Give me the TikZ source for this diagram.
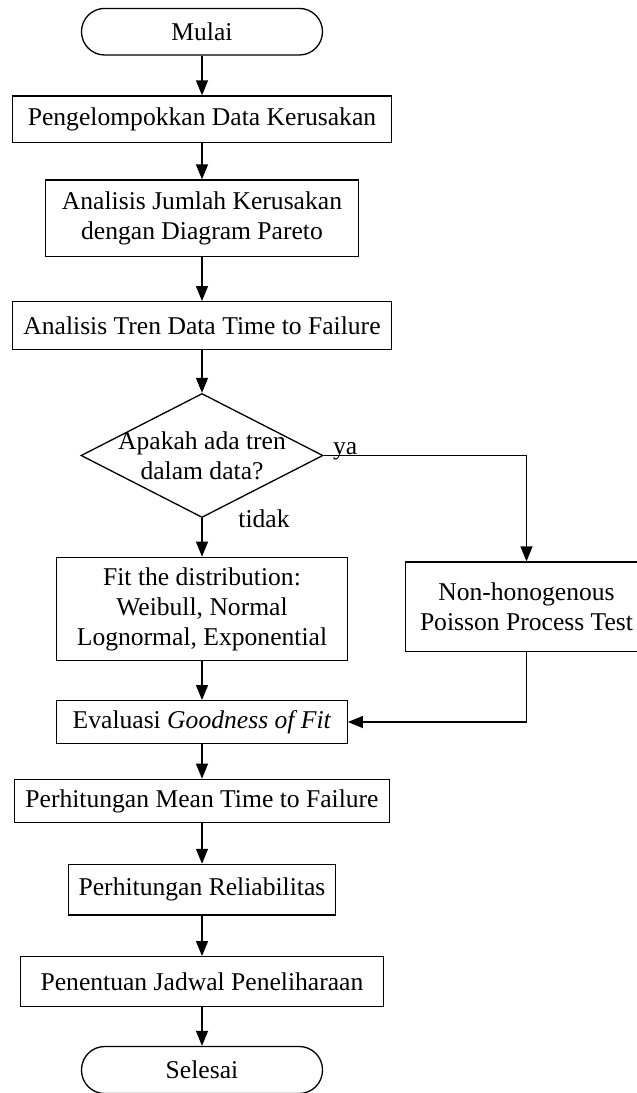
\documentclass[tikz,border=0pt]{standalone}
\usepackage{fontspec}
\setmainfont{Liberation Serif}
\usetikzlibrary{shapes.geometric,arrows.meta}

\tikzstyle{boxfont} = [font=\fontsize{12.8}{15}\selectfont]
\tikzstyle{process} = [draw,rectangle,align=center,inner sep=2pt,line width=0.65pt,boxfont]
\tikzstyle{terminal} = [draw,rectangle,rounded corners=11.6pt,inner sep=2pt,line width=0.65pt,boxfont]
\tikzstyle{decision} = [draw,diamond,inner sep=0pt,line width=0.65pt]
\tikzstyle{answer} = [inner sep=0pt,boxfont]
\tikzstyle{arrowdecorate} = [-{Triangle[length=7.5pt,width=6pt]},line width=0.65pt]

\begin{document}
\begin{tikzpicture}[x=0.5pt,y=-0.5pt]
      \useasboundingbox (0,0) rectangle (637,1093);
      \clip (0,0) rectangle (637,1093);
      %nodes
      \node[terminal, minimum width=120.5pt, minimum height=23.3pt] (start) at (202,31.7) {Mulai};
      \foreach \nodename/\x/\y/\w/\h/\content in {
        group/202/119.3/189.2/23.3/{Pengelompokkan Data Kerusakan},
        pareto/202/218.3/156.3/38.3/{Analisis Jumlah Kerusakan\\dengan Diagram Pareto},
        trend/202/325.5/189.2/23.8/{Analisis Tren Data Time to Failure},
        fit/202/609/145.3/51.7/{Fit the distribution:\\Weibull, Normal\\Lognormal, Exponential},
        nhpp/526.5/606.8/121/44.8/{Non-honogenous\\Poisson Process Test},
        gof/202/722/145.3/21.3/{Evaluasi \textit{Goodness of Fit}},
        mttf/202/801/187.6/21.7/{Perhitungan Mean Time to Failure},
        rel/202/889.7/133.3/25.3/{Perhitungan Reliabilitas},
        plan/202/981.7/181.3/25/{Penentuan Jadwal Peneliharaan}}
      {
        \node[process, minimum width=\w pt, minimum height=\h pt] (\nodename) at (\x,\y) {\content};
      };
      \node[terminal, minimum width=120.5pt, minimum height=23.5pt] (end) at (202,1070) {Selesai};
      \node[decision, minimum width=121pt, minimum height=62pt] (dec) at (202,455.5) {};
      \node[boxfont, align=center] (dectext) at (dec) {Apakah ada tren\\dalam data?};
      \node[answer, anchor=base west, xshift=4.5pt, yshift=0.5pt] (yes) at (dec.east) {ya};
      \node[answer, anchor=base west, xshift=18pt, yshift=-4.6pt] (no) at (dec.south) {tidak};
      %edges
      \path
      \foreach \startnode/\endnode in {start/group, group/pareto, pareto/trend, trend/dec,
        dec/fit, fit/gof, gof/mttf, mttf/rel, rel/plan, plan/end}
      {
        (\startnode) edge[arrowdecorate] (\endnode)
      };
      \draw[arrowdecorate] (dec.east) -| (nhpp.north);
      \draw[arrowdecorate] (nhpp.south) |- (gof.east);
    \end{tikzpicture}
\end{document}
